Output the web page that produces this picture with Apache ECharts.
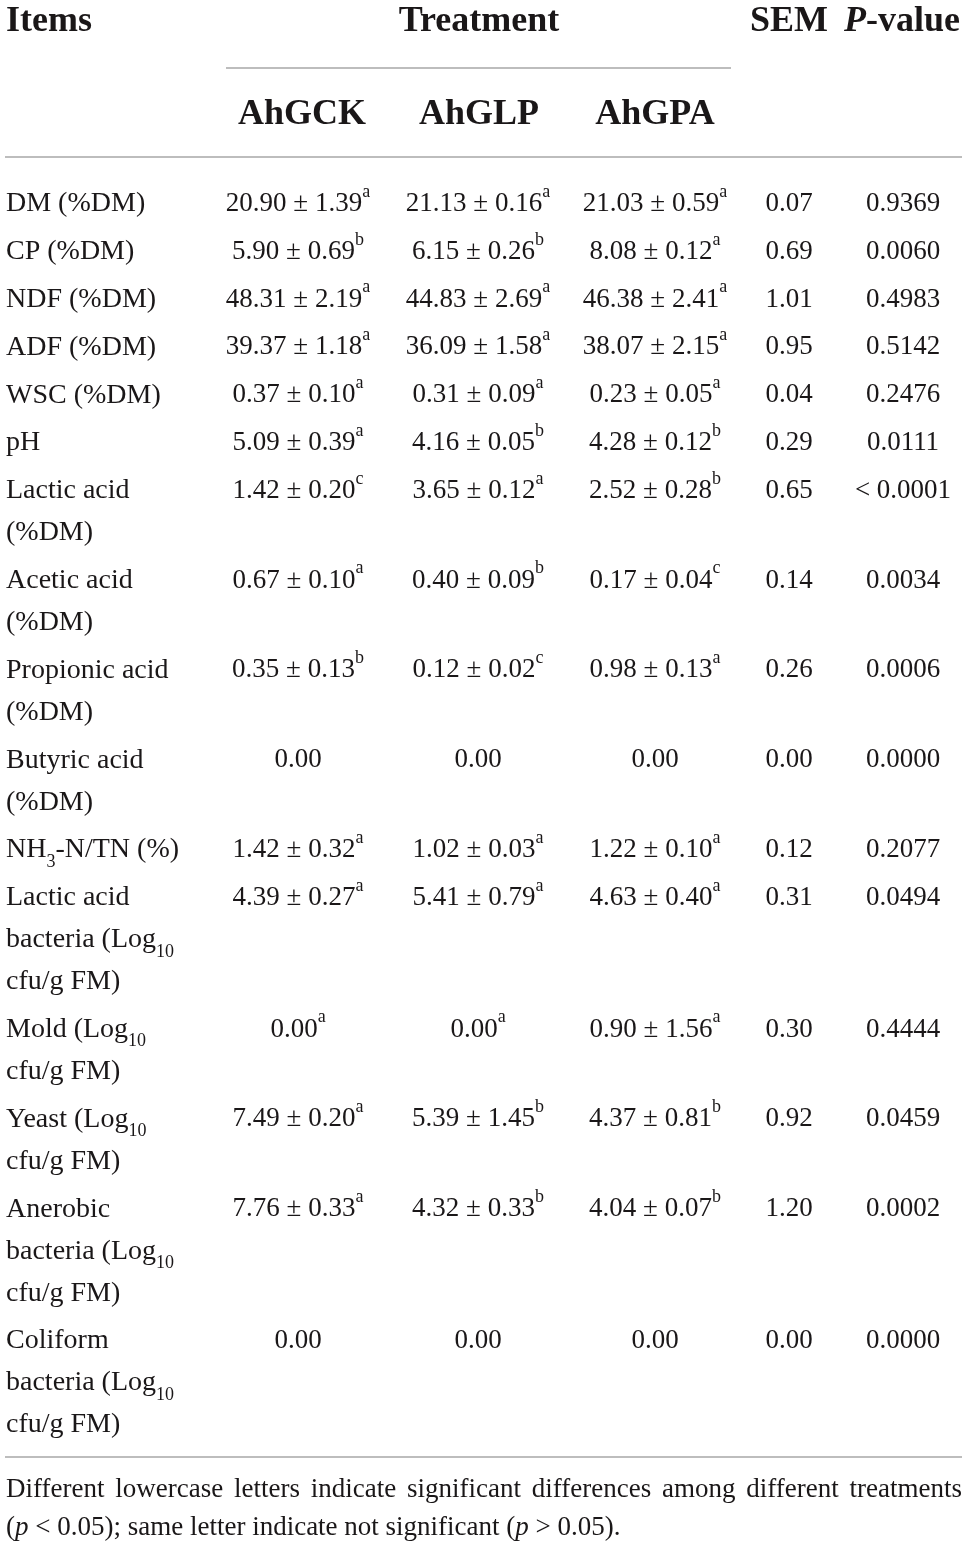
<!DOCTYPE html>
<html lang="en">
<head>
  <meta charset="utf-8">
</head>
<body style="margin: 0; background: #ffffff">
  <div id="container" style="width: 968px; height: 1547px"></div>
  <script src="https://cdn.jsdelivr.net/npm/echarts@6/dist/echarts.min.js"></script>
  <script>
    // table content
    var items = [
      'DM (%DM)', 'CP (%DM)', 'NDF (%DM)', 'ADF (%DM)', 'WSC (%DM)', 'pH',
      'Lactic acid\n(%DM)', 'Acetic acid\n(%DM)', 'Propionic acid\n(%DM)', 'Butyric acid\n(%DM)',
      'NH{sub|3}-N/TN (%)',
      'Lactic acid\nbacteria (Log{sub|10}\ncfu/g FM)',
      'Mold (Log{sub|10}\ncfu/g FM)',
      'Yeast (Log{sub|10}\ncfu/g FM)',
      'Anerobic\nbacteria (Log{sub|10}\ncfu/g FM)',
      'Coliform\nbacteria (Log{sub|10}\ncfu/g FM)'
    ];
    var treatments = ['AhGCK', 'AhGLP', 'AhGPA'];
    var gck = ['20.90 ± 1.39', '5.90 ± 0.69', '48.31 ± 2.19', '39.37 ± 1.18', '0.37 ± 0.10', '5.09 ± 0.39',
      '1.42 ± 0.20', '0.67 ± 0.10', '0.35 ± 0.13', '0.00', '1.42 ± 0.32', '4.39 ± 0.27', '0.00',
      '7.49 ± 0.20', '7.76 ± 0.33', '0.00'];
    var gckSig = ['a', 'b', 'a', 'a', 'a', 'a', 'c', 'a', 'b', '', 'a', 'a', 'a', 'a', 'a', ''];
    var glp = ['21.13 ± 0.16', '6.15 ± 0.26', '44.83 ± 2.69', '36.09 ± 1.58', '0.31 ± 0.09', '4.16 ± 0.05',
      '3.65 ± 0.12', '0.40 ± 0.09', '0.12 ± 0.02', '0.00', '1.02 ± 0.03', '5.41 ± 0.79', '0.00',
      '5.39 ± 1.45', '4.32 ± 0.33', '0.00'];
    var glpSig = ['a', 'b', 'a', 'a', 'a', 'b', 'a', 'b', 'c', '', 'a', 'a', 'a', 'b', 'b', ''];
    var gpa = ['21.03 ± 0.59', '8.08 ± 0.12', '46.38 ± 2.41', '38.07 ± 2.15', '0.23 ± 0.05', '4.28 ± 0.12',
      '2.52 ± 0.28', '0.17 ± 0.04', '0.98 ± 0.13', '0.00', '1.22 ± 0.10', '4.63 ± 0.40', '0.90 ± 1.56',
      '4.37 ± 0.81', '4.04 ± 0.07', '0.00'];
    var gpaSig = ['a', 'a', 'a', 'a', 'a', 'b', 'b', 'c', 'a', '', 'a', 'a', 'a', 'b', 'b', ''];
    var sem = ['0.07', '0.69', '1.01', '0.95', '0.04', '0.29', '0.65', '0.14', '0.26', '0.00',
      '0.12', '0.31', '0.30', '0.92', '1.20', '0.00'];
    var pValue = ['0.9369', '0.0060', '0.4983', '0.5142', '0.2476', '0.0111', '< 0.0001', '0.0034',
      '0.0006', '0.0000', '0.2077', '0.0494', '0.4444', '0.0459', '0.0002', '0.0000'];
    var footnote1 = 'Different lowercase letters indicate significant differences among different treatments';
    var footnote2 = '({i|p} < 0.05); same letter indicate not significant ({i|p} > 0.05).';

    var SERIF = '"Liberation Serif", "DejaVu Serif", serif';
    var INK = '#1a1718';
    var RULE = '#a7a7a7';

    // layout
    var colX = [6, 298, 478, 655, 789, 903];
    var lineH = 42;
    var rowPad = 5.8;
    var rowTop = [];
    var y0 = 183;
    for (var i = 0; i < items.length; i++) {
      rowTop.push(y0);
      y0 += items[i].split('\n').length * lineH + rowPad;
    }

    var rich = {
      sup: { fontSize: 18, fontFamily: SERIF, lineHeight: 29, verticalAlign: 'top', fill: INK },
      sub: { fontSize: 18, fontFamily: SERIF, lineHeight: 33, verticalAlign: 'bottom', fill: INK }
    };

    function cellText(c, r) {
      if (c === 0) return items[r];
      if (c === 4) return sem[r];
      if (c === 5) return pValue[r];
      var v = [gck, glp, gpa][c - 1][r];
      var s = [gckSig, glpSig, gpaSig][c - 1][r];
      return s ? v + '{sup|' + s + '}' : v;
    }

    var cells = [];
    for (var r = 0; r < items.length; r++) {
      for (var c = 0; c < 6; c++) cells.push([c, r]);
    }

    // justified first footnote line
    var noteSize = 27;
    var ctx = document.createElement('canvas').getContext('2d');
    ctx.font = noteSize + 'px ' + SERIF;
    var words = footnote1.split(' ');
    var wordsW = 0;
    words.forEach(function (w) { wordsW += ctx.measureText(w).width; });
    var gap = Math.max(4, (962 - 6 - wordsW) / (words.length - 1));
    var noteWords = [];
    var wx = 6;
    words.forEach(function (w) {
      noteWords.push({
        type: 'text', x: wx, y: 1490,
        style: { text: w, fontSize: noteSize, fontFamily: SERIF, fill: INK, verticalAlign: 'middle' }
      });
      wx += ctx.measureText(w).width + gap;
    });

    var headStyle = function (text, x, y, align) {
      return {
        type: 'text', x: x, y: y,
        style: {
          text: text, fontSize: 36, fontWeight: 'bold', fontFamily: SERIF, fill: INK,
          align: align, verticalAlign: 'middle',
          rich: { i: { fontSize: 36, fontWeight: 'bold', fontStyle: 'italic', fontFamily: SERIF, fill: INK } }
        }
      };
    };

    var graphics = [
      headStyle('Items', 6, 22, 'left'),
      headStyle('Treatment', 479, 22, 'center'),
      headStyle('SEM', 789, 22, 'center'),
      headStyle('{i|P}-value', 902, 22, 'center'),
      { type: 'line', shape: { x1: 226, y1: 68, x2: 731, y2: 68 }, style: { stroke: RULE, lineWidth: 1.5 } },
      { type: 'line', shape: { x1: 5, y1: 157, x2: 962, y2: 157 }, style: { stroke: RULE, lineWidth: 1.5 } },
      { type: 'line', shape: { x1: 5, y1: 1457, x2: 962, y2: 1457 }, style: { stroke: RULE, lineWidth: 1.5 } },
      {
        type: 'text', x: 6, y: 1528,
        style: {
          text: footnote2, fontSize: noteSize, fontFamily: SERIF, fill: INK, verticalAlign: 'middle',
          rich: { i: { fontSize: noteSize, fontStyle: 'italic', fontFamily: SERIF, fill: INK } }
        }
      }
    ];
    treatments.forEach(function (t, k) {
      graphics.push(headStyle(t, [302, 479, 655][k], 115, 'center'));
    });
    graphics = graphics.concat(noteWords);

    var myChart = echarts.init(document.getElementById('container'));
    var option = {
      animation: false,
      backgroundColor: '#ffffff',
      grid: { left: 0, right: 0, top: 0, bottom: 0 },
      xAxis: { type: 'value', min: 0, max: 968, show: false },
      yAxis: { type: 'value', min: 0, max: 1547, inverse: true, show: false },
      graphic: graphics,
      series: [
        {
          type: 'custom',
          coordinateSystem: 'cartesian2d',
          data: cells,
          silent: true,
          renderItem: function (params, api) {
            var c = api.value(0);
            var r = api.value(1);
            var pt = api.coord([colX[c], rowTop[r]]);
            return {
              type: 'text',
              x: pt[0],
              y: pt[1],
              style: {
                text: cellText(c, r),
                fontSize: c === 0 ? 28 : 27,
                fontFamily: SERIF,
                fill: INK,
                align: c === 0 ? 'left' : 'center',
                verticalAlign: 'top',
                lineHeight: lineH,
                rich: rich
              }
            };
          }
        }
      ]
    };
    myChart.setOption(option);
  </script>
</body>
</html>
